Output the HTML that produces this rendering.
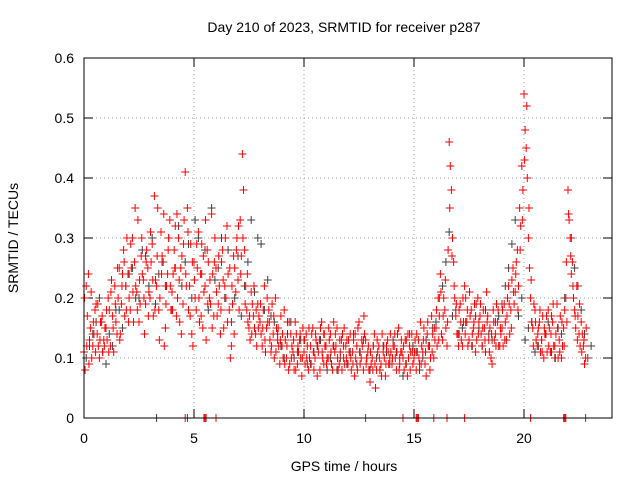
<!DOCTYPE html>
<html><head><meta charset="utf-8"><style>
body{margin:0;background:#fff}
svg{display:block;font-family:"Liberation Sans",sans-serif}
</style></head><body>
<svg id="chart" width="640" height="480">
<rect x="0" y="0" width="640" height="480" fill="#fff"/>
<text x="344" y="32" text-anchor="middle" font-size="14">Day 210 of 2023, SRMTID for receiver p287</text>
<text x="344" y="471" text-anchor="middle" font-size="14">GPS time / hours</text>
<text transform="translate(18,238) rotate(-90)" text-anchor="middle" font-size="14">SRMTID / TECUs</text>
<g id="grid"></g>
<g id="ticks"></g>
<g id="grey"></g>
<g id="red"></g>
<rect x="84" y="58" width="528" height="360" fill="none" stroke="#000" stroke-width="1"/>
</svg>
<script>
const xTicks=[0,5,10,15,20];
const yTicks=[0,0.1,0.2,0.3,0.4,0.5,0.6];
const yTickLabels=["0","0.1","0.2","0.3","0.4","0.5","0.6"];
const redA=[.11,.22,.24,.15,.12,.18,.14,.10,.16,.13,
.15,.20,.12,.17,.22,.14,.25,.19,.28,.22,
.24,.18,.30,.26,.21,.16,.27,.23,.19,.25,
.20,.29,.37,.22,.18,.31,.26,.15,.24,.33,
.21,.28,.17,.30,.25,.19,.41,.35,.22,.14,
.26,.18,.31,.24,.15,.22,.28,.20,.34,.17,
.25,.19,.14,.28,.22,.32,.18,.12,.27,.21,
.23,.33,.44,.28,.18,.15,.21,.17,.14,.19,
.16,.12,.22,.15,.18,.11,.14,.20,.13,.09,
.12,.18,.10,.08,.14,.11,.16,.09,.13,.07,
.11,.14,.08,.12,.15,.10,.07,.13,.16,.09,
.12,.10,.14,.08,.11,.15,.09,.13,.10,.12,
.09,.14,.11,.07,.12,.16,.10,.08,.13,.11,
.06,.10,.14,.08,.12,.09,.11,.07,.13,.10,
.09,.12,.08,.15,.11,.10,.13,.07,.12,.14,
.10,.08,.13,.16,.11,.09,.14,.12,.17,.10,
.15,.20,.24,.13,.18,.12,.46,.38,.26,.17,
.14,.19,.12,.22,.16,.13,.18,.15,.11,.20,
.17,.12,.15,.21,.13,.10,.18,.14,.16,.12,
.15,.19,.13,.22,.18,.25,.21,.28,.35,.42,
.54,.45,.30,.20,.15,.18,.12,.16,.13,.10,
.14,.18,.11,.16,.12,.19,.13,.10,.15,.20,
.38,.30,.26,.18,.22,.14,.16,.12,.10];
const redB=[.08,.17,.13,.10,.14,.19,.12,.16,.11,.15,
.13,.18,.23,.11,.16,.20,.14,.24,.17,.30,
.20,.25,.16,.22,.33,.19,.24,.14,.28,.21,
.26,.17,.23,.35,.20,.27,.12,.22,.30,.18,
.24,.32,.20,.16,.27,.33,.22,.18,.29,.12,
.20,.25,.16,.29,.21,.13,.26,.19,.24,.30,
.17,.22,.26,.15,.20,.24,.10,.19,.25,.30,
.18,.27,.38,.22,.16,.13,.19,.15,.12,.17,
.14,.18,.11,.16,.13,.19,.10,.15,.12,.17,
.10,.13,.16,.09,.12,.08,.14,.11,.10,.15,
.09,.12,.10,.14,.08,.13,.11,.15,.10,.12,
.10,.13,.09,.16,.12,.08,.11,.14,.09,.13,
.11,.08,.13,.10,.15,.09,.12,.14,.10,.08,
.09,.12,.05,.11,.08,.14,.10,.12,.09,.11,
.12,.10,.14,.09,.11,.08,.13,.10,.11,.09,
.13,.11,.09,.12,.15,.07,.12,.10,.14,.13,
.12,.17,.14,.20,.15,.28,.42,.30,.20,.14,
.18,.13,.16,.20,.12,.17,.14,.19,.13,.16,
.14,.18,.11,.17,.15,.09,.13,.19,.12,.14,
.12,.16,.20,.14,.23,.19,.26,.22,.32,.38,
.48,.40,.25,.16,.19,.13,.15,.11,.17,.14,
.11,.15,.17,.12,.14,.10,.17,.12,.18,.16,
.33,.24,.20,.15,.17,.12,.14,.09];
const redC=[.20,.12,.09,.21,.16,.11,.19,.13,.17,.12,
.18,.11,.21,.15,.19,.25,.13,.22,.26,.18,
.16,.29,.21,.35,.18,.23,.30,.20,.26,.17,
.31,.23,.18,.27,.13,.24,.34,.19,.28,.22,
.18,.25,.34,.23,.14,.29,.24,.31,.17,.26,
.23,.29,.20,.17,.27,.33,.19,.23,.15,.26,
.21,.27,.18,.23,.30,.16,.25,.22,.14,.28,
.32,.24,.30,.19,.24,.17,.14,.22,.18,.15,
.19,.15,.13,.20,.16,.12,.17,.11,.15,.13,
.14,.09,.12,.16,.10,.13,.08,.12,.14,.10,
.13,.10,.15,.09,.11,.14,.12,.08,.11,.14,
.09,.15,.11,.12,.14,.10,.13,.08,.15,.10,
.13,.10,.09,.14,.08,.11,.13,.17,.09,.12,
.11,.08,.09,.13,.10,.07,.12,.09,.11,.14,
.10,.14,.11,.08,.13,.12,.09,.14,.08,.11,
.11,.14,.10,.09,.13,.11,.16,.08,.11,.15,
.18,.13,.21,.17,.23,.16,.35,.27,.22,.19,
.12,.16,.20,.14,.18,.21,.12,.16,.19,.14,
.19,.15,.13,.16,.11,.14,.16,.12,.18,.15,
.18,.13,.17,.19,.15,.21,.24,.18,.28,.33,
.43,.52,.35,.23,.12,.16,.14,.18,.11,.15,
.17,.12,.14,.19,.10,.15,.11,.16,.12,.26,
.34,.27,.22,.17,.13,.19,.11,.13,.15];
const greyVals=[.10,.14,.20,.09,.12,.18,.22,.25,.20,.27,.30,.24,.22,.18,.32,.26,.20,.30,.28,.35,.25,.20,.16,.27,.22,.33,.30,.18,.17,.14,.10,.16,.11,.13,.09,.12,.14,.10,.08,.12,.11,.09,.13,.08,.10,.12,.09,.11,.07,.14,.11,.10,.12,.16,.22,.31,.18,.15,.13,.17,.12,.14,.16,.19,.25,.33,.20,.15,.11,.13,.16,.10,.14,.38,.25,.18,.10];
const greyValsB=[.12,.16,.11,.14,.18,.15,.24,.20,.28,.22,.19,.26,.30,.25,.22,.29,.33,.24,.18,.23,.30,.28,.20,.17,.26,.21,.29,.23,.16,.12,.14,.10,.13,.09,.11,.13,.08,.12,.10,.09,.14,.11,.10,.12,.08,.11,.13,.10,.09,.12,.08,.13,.15,.20,.26,.17,.14,.16,.12,.15,.18,.13,.17,.22,.29,.17,.13,.16,.12,.14,.11,.15,.20,.30,.22,.14,.12];
const redZeroTimes=[4.6,5.45,5.5,5.55,6.0,12.8,14.5,15.1,15.15,15.2,15.9,16.5,17.3,20.3,21.8,21.85,21.9,22.8];
const greyZeroTimes=[3.3,4.7];
const stepA=0.1, stepGrey=0.3;

const NS="http://www.w3.org/2000/svg";
const X=t=>84+t*22;
const Y=v=>418-v*600;
function el(tag,attrs,parent){const e=document.createElementNS(NS,tag);for(const k in attrs)e.setAttribute(k,attrs[k]);parent.appendChild(e);return e;}
const grid=document.getElementById('grid'),ticks=document.getElementById('ticks');
yTicks.forEach((v,i)=>{
  if(v>0&&v<0.6){const l=el('line',{x1:84,x2:612,y1:Y(v),y2:Y(v),stroke:'#a0a0a0','stroke-dasharray':'1,3'},grid);
  
  }
  const t=el('line',{x1:84,x2:93,y1:Y(v),y2:Y(v),stroke:'#000'},ticks);
  
  
  const t2=el('line',{x1:603,x2:612,y1:Y(v),y2:Y(v),stroke:'#000'},ticks);
  
  
  const tx=el('text',{x:74,y:Y(v)+5,'text-anchor':'end','font-size':14},ticks);tx.textContent=yTickLabels[i];
  
  
});
xTicks.forEach(v=>{
  if(v>0){const l=el('line',{x1:X(v),x2:X(v),y1:58,y2:418,stroke:'#a0a0a0','stroke-dasharray':'1,3'},grid);
  
  }
  const t=el('line',{x1:X(v),x2:X(v),y1:409,y2:418,stroke:'#000'},ticks);
  
  
  const t2=el('line',{x1:X(v),x2:X(v),y1:58,y2:67,stroke:'#000'},ticks);
  
  
  const tx=el('text',{x:X(v),y:443,'text-anchor':'middle','font-size':14},ticks);tx.textContent=String(v);
  
  
});
function plus(x,y){return `M${x-4},${y}h8M${x},${y-4}v8`;}
function series(gid,pts,color,name){
  let d='';pts.forEach(p=>d+=plus(X(p[0]),Y(p[1])));
  const p=el('path',{d:d,stroke:color,'stroke-width':1,fill:'none'},document.getElementById(gid));
  
  
}
series('grey',greyVals.map((v,i)=>[i*stepGrey+0.1,v]).concat(greyZeroTimes.map(t=>[t,0])),'#404040','grey-points');
series('grey',greyValsB.map((v,i)=>[i*stepGrey+0.25,v]),'#404040','grey-points-b');
series('red',redA.map((v,i)=>[i*stepA,v]),'#ff0000','red-points-a');
series('red',redB.map((v,i)=>[i*stepA+0.05,v]),'#ff0000','red-points-b');
series('red',redC.map((v,i)=>[i*stepA+0.025,v]),'#ff0000','red-points-c');
series('red',redZeroTimes.map(t=>[t,0]),'#ff0000','red-zero-points');
</script>
</body></html>
